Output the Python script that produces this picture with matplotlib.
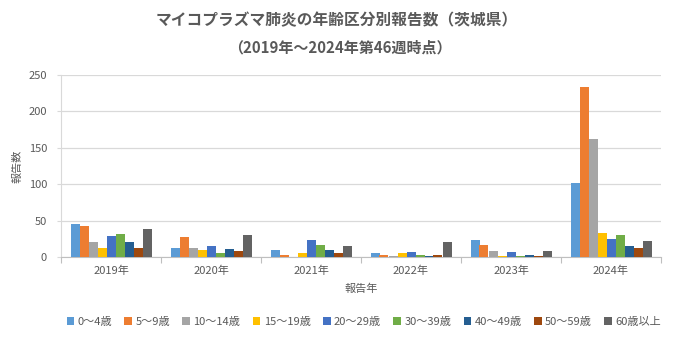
import numpy as np
import matplotlib.pyplot as plt

plt.rcParams['font.family'] = ['Noto Sans CJK JP', 'DejaVu Sans']

years = ['2019年', '2020年', '2021年', '2022年', '2023年', '2024年']
groups = ['0～4歳', '5～9歳', '10～14歳', '15～19歳', '20～29歳',
          '30～39歳', '40～49歳', '50～59歳', '60歳以上']
colors = ['#5B9BD5', '#ED7D31', '#A5A5A5', '#FFC000', '#4472C4',
          '#70AD47', '#255E91', '#9E480E', '#636363']

# rows = age group, columns = year
counts = [
    [45, 12, 9, 5, 23, 101],
    [42, 27, 3, 3, 16, 233],
    [20, 13, 0, 1, 8, 162],
    [12, 10, 5, 5, 1, 33],
    [29, 15, 24, 7, 7, 25],
    [31, 5, 16, 3, 1, 30],
    [20, 11, 9, 1, 3, 15],
    [12, 8, 5, 3, 1, 12],
    [38, 30, 15, 20, 8, 22],
]

grey = '#595959'

fig = plt.figure(figsize=(6.8, 3.4), dpi=100)
ax = fig.add_axes([61/680, (340-257)/340, 600/680, 182/340])

x = np.arange(len(years))
n = len(groups)
w = 0.81 / n
for i in range(n):
    ax.bar(x - 0.405 + w*(i+0.5), counts[i], w, color=colors[i], label=groups[i], zorder=3)

ax.set_xlim(-0.5, len(years)-0.5)
ax.set_ylim(0, 250)
ax.set_yticks(range(0, 251, 50))
ax.grid(axis='y', color='#D9D9D9', lw=0.9, zorder=0)
ax.set_xticks(np.arange(-0.5, len(years)), [''] * (len(years)+1))
ax.set_xticks(x, years, minor=True)
ax.tick_params(axis='x', which='major', length=4, color='#BFBFBF')
ax.tick_params(axis='x', which='minor', length=0, pad=6, labelsize=8, labelcolor=grey)
ax.tick_params(axis='y', length=3, color='#D9D9D9', labelsize=8, labelcolor=grey, pad=7)
for s in ['top', 'right']:
    ax.spines[s].set_visible(False)
ax.spines['bottom'].set_color('#BFBFBF')
ax.spines['left'].set_color('#D9D9D9')

ax.set_xlabel('報告年', fontsize=8, color=grey, labelpad=6)
fig.text(17/680, 1-166/340, '報告数', rotation=90, fontsize=8, color=grey,
         ha='center', va='center')

fig.text(0.495, 1-20/340, 'マイコプラズマ肺炎の年齢区分別報告数（茨城県）',
         ha='center', va='center', fontsize=11.3, fontweight='bold', color=grey)
fig.text(0.5, 1-47/340, '（2019年～2024年第46週時点）',
         ha='center', va='center', fontsize=10.8, fontweight='bold', color=grey)

fig.legend(loc='center', bbox_to_anchor=(0.535, 1-322/340), ncol=9, frameon=False,
           fontsize=8, labelcolor=grey, handlelength=0.7, handleheight=0.7,
           handletextpad=0.3, columnspacing=1.1)

fig.savefig('out.png', dpi=100)
